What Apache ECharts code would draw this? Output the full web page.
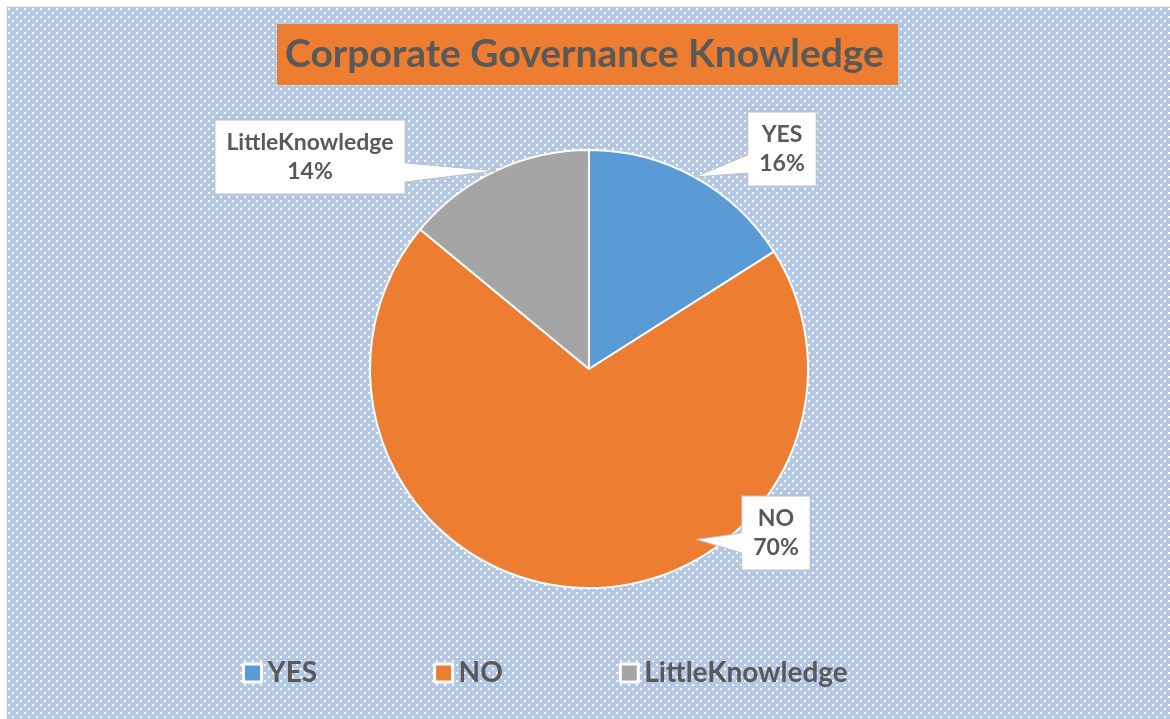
<!DOCTYPE html>
<html><head><meta charset="utf-8">
<script src="https://cdn.jsdelivr.net/npm/echarts@6/dist/echarts.min.js"></script>
<style>html,body{margin:0;padding:0;background:#fff}#c{width:1170px;height:719px}</style>
</head><body><div id="c"></div>
<script>
// ---- data ----
const categories = ['YES', 'NO', 'LittleKnowledge'];
const values = [16, 70, 14];
const titleText = 'Corporate Governance Knowledge';

// ---- style / layout ----
const colors = ['#5B9BD5', '#ED7D31', '#A5A5A5'];
const FONT = 'Lato';
const TEXT = '#595959';
const CX = 589, CY = 369, R = 219;
// label box centers
const labelPos = [{x: 782, y: 149}, {x: 776, y: 533}, {x: 310, y: 157}];
// callout tails: which side of the box, base y offsets from box centre, tip (polar)
const tails = [
  {side: 'left', y0: 6, y1: 24, tipRatio: 1.0, tipAngle: null},
  {side: 'left', y0: 0, y1: 20, tipRatio: 0.92, tipAngle: 147.8},
  {side: 'right', y0: 6, y1: 25, tipRatio: 1.0, tipAngle: null}
];

const total = values.reduce((a, b) => a + b, 0);
function midAngle(i) {
  let s = 0;
  for (let k = 0; k < i; k++) s += values[k];
  return (s + values[i] / 2) / total * 360;
}

// dotted background pattern
const tile = document.createElement('canvas');
tile.width = 8; tile.height = 8;
const tc = tile.getContext('2d');
tc.fillStyle = '#B4C7E7'; tc.fillRect(0, 0, 8, 8);
tc.fillStyle = '#FFFFFF'; tc.fillRect(0, 0, 2, 2); tc.fillRect(4, 4, 2, 2);

const chart = echarts.init(document.getElementById('c'));
const sizes = [];

function baseGraphic() {
  return [{
    type: 'rect', z: -10, silent: true,
    shape: {x: 6.5, y: 6.5, width: 1170, height: 719},
    style: {fill: {image: tile, repeat: 'repeat'}, stroke: '#FFF2CC', lineWidth: 1}
  }];
}

function tailGraphic() {
  const g = [];
  values.forEach((v, i) => {
    const t = tails[i];
    const s = sizes[i] || {w: 60, h: 72};
    const p = labelPos[i];
    const ang = (t.tipAngle == null ? midAngle(i) : t.tipAngle) * Math.PI / 180;
    const tip = [CX + R * t.tipRatio * Math.sin(ang), CY - R * t.tipRatio * Math.cos(ang)];
    const ex = t.side === 'left' ? p.x - s.w / 2 : p.x + s.w / 2;
    const inner = t.side === 'left' ? ex + 1.5 : ex - 1.5;
    const a = [ex, p.y + t.y0], b = [ex, p.y + t.y1];
    g.push({type: 'polygon', z: 10, silent: true,
      shape: {points: [[inner, p.y + t.y0], tip, [inner, p.y + t.y1]]},
      style: {fill: '#FFFFFF', stroke: null}});
    g.push({type: 'polyline', z: 11, silent: true,
      shape: {points: [a, tip, b]},
      style: {stroke: '#BFBFBF', lineWidth: 1, fill: null}});
  });
  return g;
}

const option = {
  backgroundColor: '#FFFFFF',
  animation: false,
  color: colors,
  title: {
    text: titleText,
    left: 277, top: 24,
    backgroundColor: '#ED7D31',
    padding: [10, 14, 10, 8],
    textStyle: {fontFamily: FONT, fontWeight: 'bold', fontSize: 39, lineHeight: 41, color: TEXT}
  },
  legend: {
    data: categories,
    left: 242, top: 659, padding: 0,
    icon: 'rect', itemWidth: 18, itemHeight: 18, itemGap: 116,
    itemStyle: {borderColor: '#FFFFFF', borderWidth: 3},
    textStyle: {fontFamily: FONT, fontWeight: 'bold', fontSize: 28, color: TEXT, padding: [0, 0, 0, 1]}
  },
  graphic: baseGraphic(),
  series: [{
    type: 'pie',
    center: [CX, CY],
    radius: R,
    startAngle: 90,
    clockwise: true,
    itemStyle: {borderColor: '#FFFFFF', borderWidth: 2},
    label: {
      show: true, position: 'outside',
      formatter: '{b}\n{d}%',
      fontFamily: FONT, fontWeight: 'bold', fontSize: 23, lineHeight: 29,
      color: TEXT, align: 'center',
      backgroundColor: '#FFFFFF', borderColor: '#BFBFBF', borderWidth: 1,
      padding: [8, 11, 7, 11]
    },
    labelLine: {show: false},
    labelLayout: function (p) {
      sizes[p.dataIndex] = {w: p.labelRect.width, h: p.labelRect.height};
      const b = labelPos[p.dataIndex];
      return {x: b.x, y: b.y, align: 'center', verticalAlign: 'middle'};
    },
    emphasis: {disabled: true},
    data: categories.map((c, i) => ({name: c, value: values[i]}))
  }]
};
chart.setOption(option);
chart.setOption({graphic: baseGraphic().concat(tailGraphic())}, {replaceMerge: ['graphic']});
</script>
</body></html>
